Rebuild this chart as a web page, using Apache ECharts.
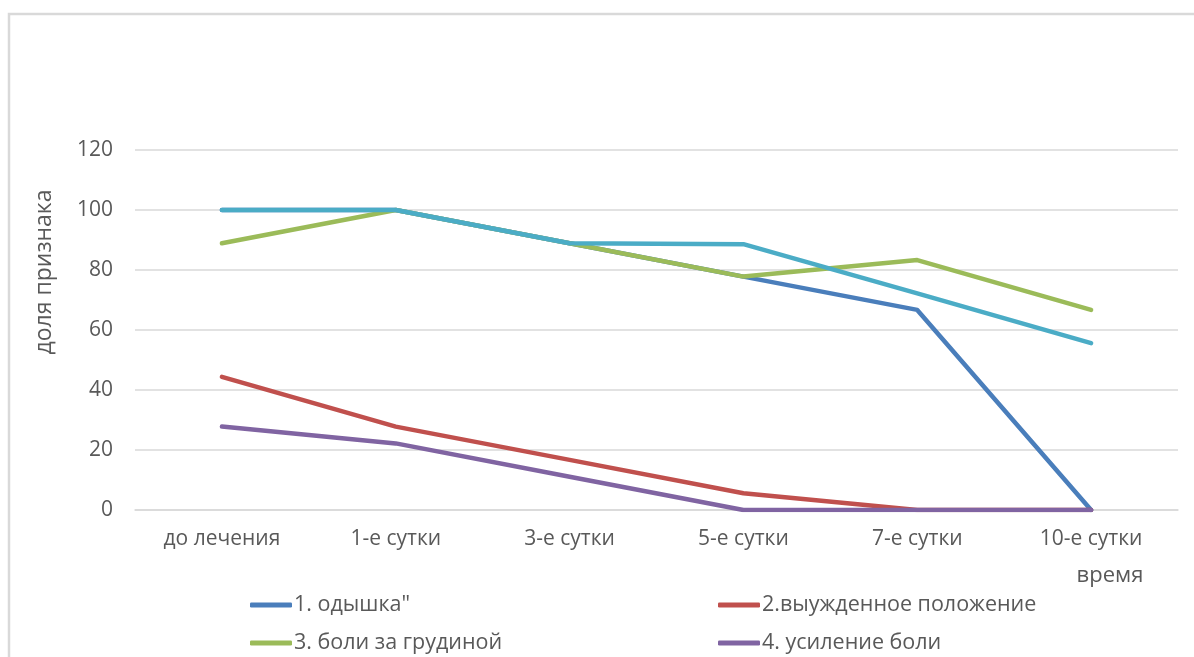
<!DOCTYPE html>
<html>
<head>
<meta charset="utf-8">
<style>
  html, body { margin: 0; padding: 0; background: #ffffff; }
  #chart { width: 1194px; height: 657px; }
</style>
<script src="https://cdn.jsdelivr.net/npm/echarts@6/dist/echarts.min.js"></script>
</head>
<body>
<div id="chart"></div>
<script>
// Time points after start of treatment
const categories = ['до лечения', '1-е сутки', '3-е сутки', '5-е сутки', '7-е сутки', '10-е сутки'];

// Share of patients with each symptom, %
const dyspnea      = [100, 100, 88.9, 77.8, 66.7, 0];
const forcedPose   = [44.4, 27.8, 16.7, 5.6, 0, 0];
const chestPain    = [88.9, 100, 88.9, 77.8, 83.3, 66.7];
const painIncrease = [27.8, 22.2, 11.1, 0, 0, 0];
const series5      = [100, 100, 88.9, 88.6, 72.2, 55.6];

const seriesNames = ['1. одышка"', '2.выужденное положение', '3. боли за грудиной', '4. усиление боли', '5.'];

const yTicks = { min: 0, max: 120, interval: 20 };

const font = '"Open Sans", "Noto Sans", sans-serif';
const textColor = '#595959';
const gridColor = '#d9d9d9';

const chart = echarts.init(document.getElementById('chart'), null, { renderer: 'canvas' });

function lineSeries(name, data, color) {
  return {
    name: name,
    type: 'line',
    data: data,
    symbol: 'none',
    smooth: false,
    lineStyle: { color: color, width: 4.5, cap: 'round', join: 'round' },
    itemStyle: { color: color },
    emphasis: { disabled: true }
  };
}

const legendCommon = {
  orient: 'vertical',
  icon: 'roundRect',
  padding: 0,
  itemWidth: 42,
  itemHeight: 5,
  itemGap: 16,
  textStyle: { fontFamily: font, fontSize: 21.5, color: textColor, padding: [0, 0, 0, -3] },
  selectedMode: false
};

chart.setOption({
  animation: false,
  backgroundColor: '#ffffff',
  grid: { left: 135, right: 16, top: 150, bottom: 147 },
  legend: [
    Object.assign({}, legendCommon, { left: 250, top: 594, data: [seriesNames[0], seriesNames[2]] }),
    Object.assign({}, legendCommon, { left: 718, top: 594, data: [seriesNames[1], seriesNames[3]] })
  ],
  xAxis: {
    type: 'category',
    data: categories,
    boundaryGap: true,
    axisLine: { lineStyle: { color: gridColor, width: 1.5 } },
    axisTick: { show: false },
    axisLabel: { fontFamily: font, fontSize: 21, color: textColor, margin: 19 }
  },
  yAxis: {
    type: 'value',
    min: yTicks.min,
    max: yTicks.max,
    interval: yTicks.interval,
    axisLine: { show: false },
    axisTick: { show: false },
    splitLine: { lineStyle: { color: gridColor, width: 1.5 } },
    axisLabel: { fontFamily: font, fontSize: 21, color: textColor, margin: 22 }
  },
  graphic: [
    {
      type: 'rect',
      shape: { x: 9, y: 14, width: 1300, height: 800 },
      style: { fill: 'none', stroke: gridColor, lineWidth: 2.5 },
      silent: true,
      z: -10
    },
    {
      type: 'text',
      x: 44,
      y: 272,
      rotation: Math.PI / 2,
      style: {
        text: 'доля признака',
        fontFamily: font,
        fontSize: 23,
        fill: textColor,
        align: 'center',
        verticalAlign: 'middle'
      }
    },
    {
      type: 'text',
      x: 1110,
      y: 576,
      style: {
        text: 'время',
        fontFamily: font,
        fontSize: 22,
        fill: textColor,
        align: 'center',
        verticalAlign: 'middle'
      }
    }
  ],
  series: [
    lineSeries(seriesNames[0], dyspnea, '#4A7EBB'),
    lineSeries(seriesNames[1], forcedPose, '#C0504D'),
    lineSeries(seriesNames[2], chestPain, '#9BBB59'),
    lineSeries(seriesNames[3], painIncrease, '#8064A2'),
    lineSeries(seriesNames[4], series5, '#4BACC6')
  ]
});
</script>
</body>
</html>
